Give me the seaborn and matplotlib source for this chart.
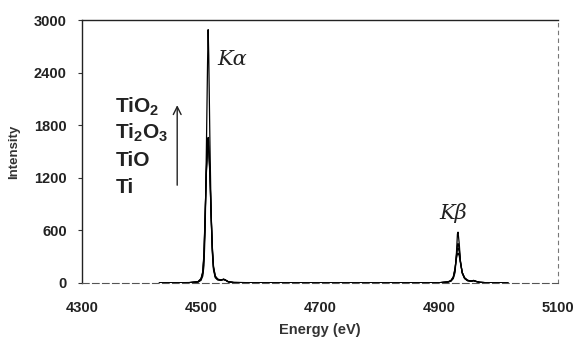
import matplotlib
matplotlib.use("Agg")
import matplotlib.pyplot as plt
import seaborn as sns
import pandas as pd

# Ti K-emission spectra of titanium and its oxides
energy = [4430, 4480, 4495, 4500, 4503, 4505, 4507, 4509, 4511, 4512, 4513, 4515,
          4517, 4519, 4521, 4524, 4528, 4533, 4538, 4541, 4546, 4555, 4600, 4700,
          4800, 4900, 4915, 4920, 4924, 4927, 4929, 4931, 4932, 4934, 4936, 4939,
          4943, 4948, 4954, 4958, 4962, 4968, 4980, 5016]

ti = [0, 3, 10, 30, 80, 200, 600, 1500, 2500, 2890, 2600, 1600,
      800, 350, 150, 60, 35, 30, 45, 35, 12, 5, 2, 0,
      0, 3, 10, 20, 50, 120, 300, 560, 580, 450, 250, 110,
      50, 25, 20, 30, 20, 8, 3, 0]
tio = [0, 4, 12, 40, 110, 300, 750, 1300, 1620, 1660, 1600, 1250,
       750, 380, 170, 70, 40, 32, 42, 34, 13, 5, 2, 0,
       0, 3, 12, 25, 60, 150, 300, 430, 450, 390, 250, 120,
       55, 28, 20, 28, 18, 8, 3, 0]
ti2o3 = [0, 4, 14, 45, 120, 320, 780, 1280, 1570, 1600, 1550, 1250,
         780, 400, 180, 75, 42, 33, 40, 33, 14, 6, 2, 0,
         0, 3, 12, 26, 65, 160, 290, 390, 400, 360, 240, 120,
         58, 30, 21, 27, 18, 8, 3, 0]
tio2 = [0, 5, 16, 50, 130, 340, 800, 1250, 1510, 1540, 1500, 1230,
        800, 420, 190, 80, 45, 35, 40, 32, 15, 6, 2, 0,
        0, 3, 13, 28, 70, 170, 270, 330, 340, 310, 230, 120,
        60, 32, 22, 26, 18, 8, 3, 0]

compounds = ["Ti", "TiO", "Ti2O3", "TiO2"]
compound_labels = ["Ti", "TiO", r"Ti$_2$O$_3$", r"TiO$_2$"]
x_ticks = [4300, 4500, 4700, 4900, 5100]
y_ticks = [0, 600, 1200, 1800, 2400, 3000]

series = {"Ti": ti, "TiO": tio, "Ti2O3": ti2o3, "TiO2": tio2}
df = pd.concat(
    [pd.DataFrame({"energy": energy, "intensity": vals, "compound": name})
     for name, vals in series.items()],
    ignore_index=True,
)

sns.set_theme(style="white")
plt.rcParams["font.family"] = ["Liberation Sans", "DejaVu Sans"]
plt.rcParams["mathtext.fontset"] = "custom"
plt.rcParams["mathtext.rm"] = "Liberation Sans:bold"
plt.rcParams["mathtext.default"] = "rm"

fig = plt.figure(figsize=(5.73, 3.41), dpi=100)
ax = fig.add_axes([82 / 573, 1 - 283 / 341, (558 - 82) / 573, (283 - 20) / 341])

sns.lineplot(data=df, x="energy", y="intensity", hue="compound",
             hue_order=compounds, palette=["black"] * 4, linewidth=0.9,
             legend=False, sort=False, estimator=None, ax=ax)

ax.set_xlim(4300, 5100)
ax.set_ylim(0, 3000)
ax.set_xticks(x_ticks)
ax.set_yticks(y_ticks)
ax.set_xticklabels([str(v) for v in x_ticks], fontsize=10.5, fontweight="bold",
                   color="#222222")
ax.set_yticklabels([str(v) for v in y_ticks], fontsize=10.5, fontweight="bold",
                   color="#222222")
ax.tick_params(axis="x", length=0, pad=13)
ax.tick_params(axis="y", length=3, width=0.8, direction="out", pad=8, left=True,
               color="#333333")

ax.set_xlabel("Energy (eV)", fontsize=10.5, fontweight="bold", color="#333333",
              labelpad=6)
ax.set_ylabel("Intensity", fontsize=9.5, fontweight="bold", color="#333333",
              labelpad=10)

for side in ["left", "top"]:
    ax.spines[side].set_color("#222222")
    ax.spines[side].set_linewidth(1.0)
ax.spines["right"].set_color("#777777")
ax.spines["right"].set_linewidth(0.8)
ax.spines["right"].set_linestyle((0, (3, 4)))
ax.spines["bottom"].set_color("#555555")
ax.spines["bottom"].set_linewidth(0.8)
ax.spines["bottom"].set_linestyle((0, (6, 3)))

# peak labels
ax.text(4528, 2544, "K\u03b1", fontsize=15, family="DejaVu Serif",
        style="italic", va="center", ha="left", color="#222222")
ax.text(4900, 798, "K\u03b2", fontsize=15, family="DejaVu Serif",
        style="italic", va="center", ha="left", color="#222222")

# compound series, ordered bottom to top
label_y = [1084, 1403, 1711, 2008]
for lab, yy in zip(compound_labels, label_y):
    ax.text(4356, yy, lab, fontsize=15, fontweight="bold", va="center",
            ha="left", color="#222222")
ax.annotate("", xy=(4460, 2060), xytext=(4460, 1084),
            arrowprops=dict(arrowstyle="->", color="#222222", lw=1.0,
                            mutation_scale=14))

fig.savefig("out.png", dpi=100)
